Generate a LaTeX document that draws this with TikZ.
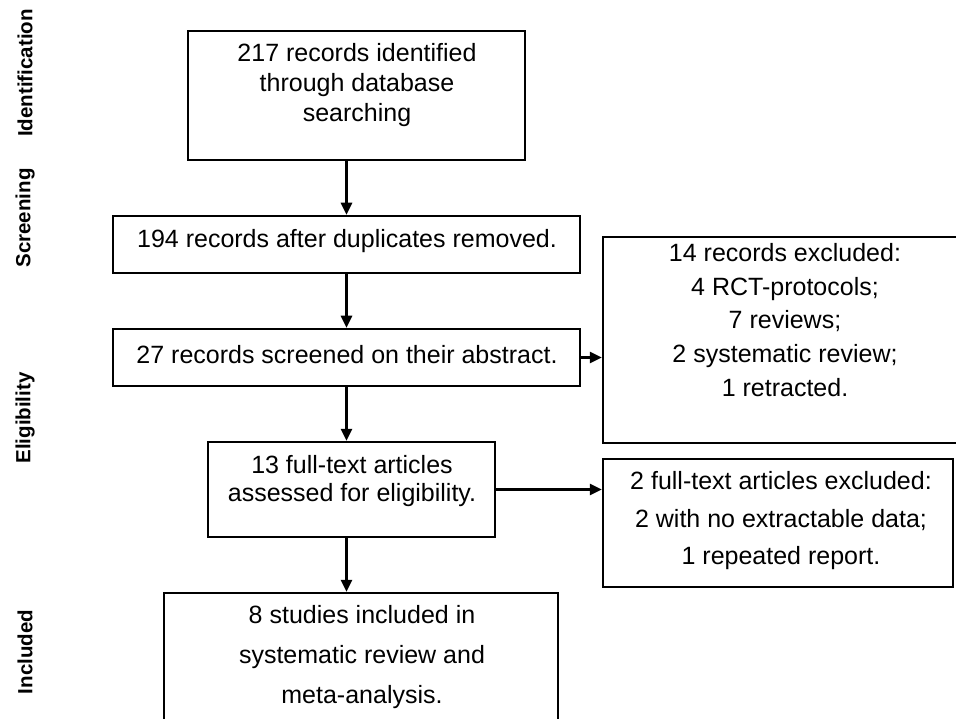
\documentclass[tikz,border=0pt]{standalone}
\usepackage{fontspec}
\setmainfont{Liberation Sans}
\usetikzlibrary{arrows.meta}

\begin{document}
\begin{tikzpicture}[x=1pt, y=-1pt,
  box/.style={draw, line width=2.5pt, inner sep=0pt},
  txt/.style={align=center, inner sep=0pt, font=\fontsize{25}{#1}\selectfont},
  txt/.default=30,
  phase/.style={rotate=90, inner sep=0pt, font=\fontsize{20.5}{24}\selectfont\bfseries},
  arr/.style={line width=2.5pt, -{Triangle[length=12pt, width=11pt]}}]
  % frame 956 x 719, one unit per pixel, y grows downward
  \useasboundingbox (0,0) rectangle (956,719);
  \clip (0,0) rectangle (956,719);
  % boxes: centre = middle of the measured edges, size = edge to edge
  \node[box, minimum width=337pt, minimum height=129pt] (ident) at (356.5, 95.5) {};
  \node[box, minimum width=467pt, minimum height=57pt] (dup) at (346.5, 244.5) {};
  \node[box, minimum width=467pt, minimum height=57pt] (scr) at (346.5, 357.5) {};
  \node[box, minimum width=365pt, minimum height=206pt] (exc1) at (785.5, 340) {}; % runs off the right edge
  \node[box, minimum width=287pt, minimum height=95pt] (elig) at (351.5, 489.5) {};
  \node[box, minimum width=350pt, minimum height=128pt] (exc2) at (778, 523) {};
  \node[box, minimum width=394pt, minimum height=132pt] (incl) at (361, 659) {}; % runs off the bottom
  % texts, line pitch
  \node[txt] (ident-t) at (357, 85) {217 records identified\\through database\\searching};
  \node[txt] (dup-t) at (347, 241) {194 records after duplicates removed.};
  \node[txt] (scr-t) at (347, 355) {27 records screened on their abstract.};
  \node[txt=33.75] (exc1-t) at (785, 320)
    {14 records excluded:\\4 RCT-protocols;\\7 reviews;\\2 systematic review;\\1 retracted.};
  \node[txt=28] (elig-t) at (352, 481) {13 full-text articles\\assessed for eligibility.};
  \node[txt=37.5] (exc2-t) at (781, 521)
    {2 full-text articles excluded:\\2 with no extractable data;\\1 repeated report.};
  \node[txt=40] (incl-t) at (362, 657) {8 studies included in\\systematic review and\\meta-analysis.};
  % main column, x of the lower boxes
  \draw[arr] (ident.south -| dup.center) -- (dup.north);
  \draw[arr] (dup) -- (scr);
  \draw[arr] (scr.south) -- (scr.south |- elig.north);
  \draw[arr] (elig.south -| scr.south) -- (incl.north -| scr.south);
  % side exits
  \draw[arr] (scr.east) -- (scr.east -| exc1.west);
  \draw[arr] (elig.east) -- (elig.east -| exc2.west);
  % phase labels
  \node[phase] (p-ident) at (25, 73) {Identification};
  \node[phase] (p-scr) at (25, 218) {Screening};
  \node[phase] (p-elig) at (25, 418) {Eligibility};
  \node[phase] (p-incl) at (25, 652) {Included};
\end{tikzpicture}
\end{document}
